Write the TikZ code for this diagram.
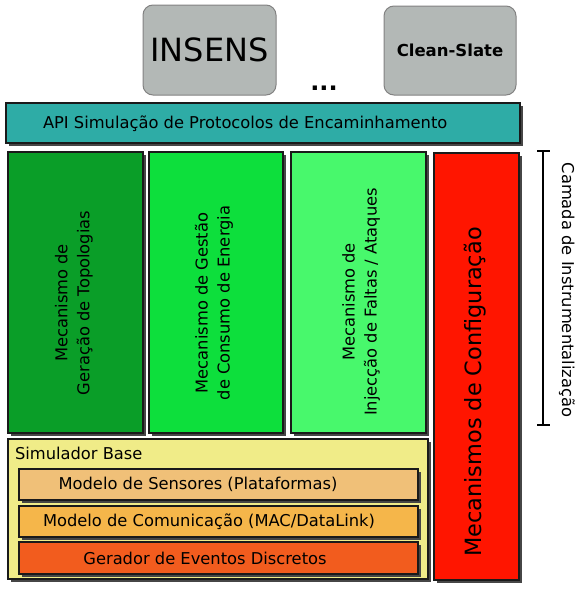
\documentclass[tikz,border=0pt]{standalone}
\usepackage{fontspec}
\setmainfont{DejaVu Sans}
\usetikzlibrary{shadows}
\definecolor{grayfill}{RGB}{179,184,182}
\definecolor{grayline}{RGB}{130,130,130}
\definecolor{teal1}{RGB}{46,172,166}
\definecolor{gA}{RGB}{10,158,40}
\definecolor{gB}{RGB}{13,223,60}
\definecolor{gC}{RGB}{72,248,108}
\definecolor{redc}{RGB}{255,21,0}
\definecolor{yel}{RGB}{240,236,136}
\definecolor{sensc}{RGB}{240,192,120}
\definecolor{comc}{RGB}{245,182,74}
\definecolor{gerc}{RGB}{242,92,30}
\definecolor{edge}{RGB}{26,26,26}
\definecolor{shad}{RGB}{70,70,70}
\begin{document}
\begin{tikzpicture}[x=1pt,y=-1pt,
  every node/.style={inner sep=0pt,outer sep=0pt},
  topbox/.style={draw=grayline,fill=grayfill,line width=1pt,rounded corners=10pt,anchor=north west},
  blk/.style={draw=edge,line width=1.2pt,anchor=north west,
    drop shadow={shadow xshift=3pt,shadow yshift=-3pt,fill=shad,opacity=1}},
  txt/.style={font=\fontsize{16.3}{22}\selectfont,align=center},
  vtxt/.style={txt,rotate=90}]
\useasboundingbox (0,0) rectangle (583,589);
% top boxes
\node[topbox,minimum width=133pt,minimum height=90pt] (insens) at (143,5) {};
\node[font=\fontsize{32}{36}\selectfont] (insensT) at (insens.center) {INSENS};
\node[topbox,minimum width=132pt,minimum height=89pt] (clean) at (384,6) {};
\node[font=\fontsize{16.5}{20}\selectfont\bfseries] (cleanT) at (clean.center) {Clean-Slate};
\node[font=\fontsize{24}{28}\selectfont\bfseries,anchor=base] (dots) at (324,90) {...};
% API bar
\node[blk,fill=teal1,minimum width=514pt,minimum height=40pt] (api) at (6,103) {};
\node[txt,anchor=base west] (apiT) at (43,128) {API Simulação de Protocolos de Encaminhamento};
% columns
\node[blk,fill=gA,minimum width=135pt,minimum height=281pt] (c1) at (8,152) {};
\node[blk,fill=gB,minimum width=134pt,minimum height=281pt] (c2) at (149,152) {};
\node[blk,fill=gC,minimum width=135pt,minimum height=281pt] (c3) at (291,152) {};
\node[blk,fill=redc,minimum width=85pt,minimum height=427pt] (red) at (434,153) {};
\node[vtxt] (c1T) at (74,303) {Mecanismo de\\Geração de Topologias};
\node[vtxt] (c2T) at (214,303) {Mecanismo de Gestão\\de Consumo de Energia};
\node[vtxt] (c3T) at (361,302) {Mecanismo de\\Injecção de Faltas / Ataques};
\node[rotate=90,font=\fontsize{22.4}{26}\selectfont] (redT) at (475,392) {Mecanismos de Configuração};
% simulator base
\node[blk,fill=yel,minimum width=420pt,minimum height=140pt] (sim) at (8,439) {};
\node[txt,anchor=base west] (simT) at (15,459) {Simulador Base};
\node[blk,fill=sensc,minimum width=399pt,minimum height=31pt,drop shadow={opacity=0}] (sens) at (19,469) {};
\node[blk,fill=comc,minimum width=399pt,minimum height=31pt,drop shadow={opacity=0}] (com) at (19,506) {};
\node[blk,fill=gerc,minimum width=399pt,minimum height=32pt,drop shadow={opacity=0}] (ger) at (19,542) {};
\node[txt] (sensT) at (198,484.5) {Modelo de Sensores (Plataformas)};
\node[txt] (comT) at (209,521.5) {Modelo de Comunicação (MAC/DataLink)};
\node[txt] (gerT) at (205,558) {Gerador de Eventos Discretos};
% bracket
\coordinate (bt) at (543,151);
\coordinate (bb) at (543,425);
\draw[line width=1.4pt] (bt) -- (bb);
\draw[line width=1.4pt] ([xshift=-6pt]bt) -- ([xshift=7pt]bt);
\draw[line width=1.4pt] ([xshift=-6pt]bb) -- ([xshift=7pt]bb);
\node[txt,rotate=-90] (camT) at (567,290) {Camada de Instrumentalização};
\end{tikzpicture}
\end{document}
